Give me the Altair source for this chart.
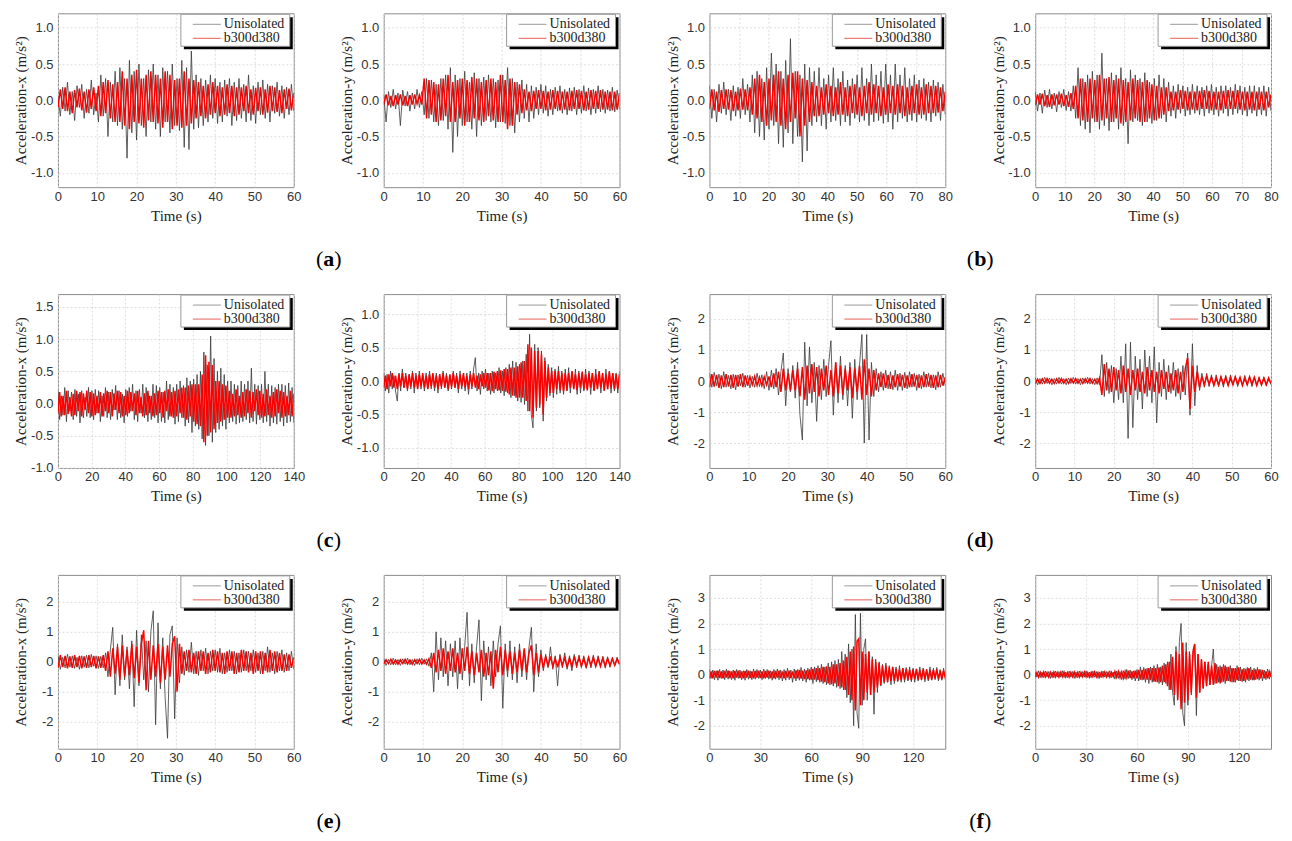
import altair as alt
import pandas as pd

SERIF = "Liberation Serif"
SANS = "Liberation Sans"
W, H = 236, 174

# ---------------- data ----------------
A_X_U = [.05,-.22,.18,-.15,.25,-.2,.12,-.28,.2,-.1,.22,-.25,.15,-.18,.28,-.2,.1,
         -.3,.35,-.22,.3,-.5,.25,-.3,.4,-.35,
         .45,-.4,.3,-.8,.55,-.45,.4,-.55,.5,-.35,.3,-.5,.42,-.3,.5,
         -.4,.35,-.5,.45,-.3,.4,-.45,.5,-.35,.3,-.42,.55,-.65,.45,-.68,.68,-.4,.35,
         -.38,.3,-.35,.28,-.3,.35,-.25,.3,-.32,.25,-.3,.28,-.22,.3,-.35,.25,-.28,
         .3,-.25,.22,-.3,.35,-.28,.2,-.32,.25,-.2,.28,-.25,.22,-.3,.2,-.18,.25,-.22,.2,-.25,.18,-.2,.22,-.15]
A_X_R = [-.1,.15,-.12,.18,-.15,.12,-.18,.14,-.1,.16,-.14,.12,-.17,.15,-.12,.18,-.15,
         .2,-.22,.25,-.18,.28,-.25,.22,-.3,.25,
         -.3,.4,-.35,.3,-.4,.35,-.3,.42,-.32,.3,-.38,.35,-.28,.4,-.3,
         .35,-.32,.3,-.38,.4,-.3,.35,-.4,.28,-.35,.3,-.38,.4,-.35,.3,-.32,.28,-.25,
         .25,-.22,.2,-.25,.22,-.2,.25,-.18,.2,-.22,.18,-.2,.22,-.18,.2,-.22,.18,
         -.2,.18,-.15,.2,-.18,.15,-.2,.17,-.15,.18,-.2,.15,-.17,.2,-.15,.18,-.16,.14,-.18,.15,-.12,.16,-.14,.1]
A_Y_U = [.08,-.3,.12,-.1,.15,-.12,.1,-.35,.14,-.08,.12,-.15,.1,-.12,.15,-.1,.12,
         -.2,.3,-.25,.28,-.3,.22,-.35,.3,-.28,.35,-.4,.45,-.72,
         .35,-.5,.3,-.35,.4,-.3,.25,-.4,.38,-.5,.3,-.35,.32,-.28,.35,-.3,
         .3,-.38,.28,-.3,.35,-.32,.45,-.35,.3,-.45,.25,-.3,.28,
         -.25,.22,-.3,.2,-.25,.18,-.2,.22,-.18,.2,-.22,.15,-.2,.18,-.15,.2,-.18,.15,-.2,.17,
         -.15,.18,-.2,.15,-.18,.2,-.15,.17,-.2,.15,-.18,.2,-.16,.15,-.18,.14,-.15,.18,-.16,.14,-.12]
A_Y_R = [-.06,.08,-.07,.06,-.08,.07,-.06,.08,-.07,.06,-.08,.07,-.06,.08,-.05,.07,-.06,
         .3,-.25,.28,-.2,.25,-.3,.22,-.28,.3,-.22,.35,-.3,.25,
         -.3,.28,-.25,.3,-.35,.28,-.3,.32,-.25,.3,-.28,.25,-.3,.28,-.22,.3,
         -.28,.25,-.3,.35,-.3,.28,-.4,.3,-.35,.25,-.2,.22,-.18,
         .15,-.14,.12,-.15,.13,-.12,.14,-.12,.13,-.14,.12,-.13,.14,-.12,.13,-.14,.12,-.13,.12,-.14,
         .13,-.12,.14,-.12,.13,-.14,.12,-.13,.14,-.12,.13,-.12,.14,-.13,.12,-.13,.12,-.14,.12,-.13,.1]

B_X_U = [.2,-.25,.15,-.3,.22,-.18,.25,-.2,.15,-.28,.2,-.22,.18,-.25,.3,-.2,.22,-.3,
         .35,-.45,.4,-.5,.3,-.55,.45,-.4,.65,-.35,.5,-.6,.4,-.65,.55,-.45,.85,-.6,.4,-.5,.35,-.85,.5,-.7,.45,-.35,.4,
         -.3,.45,-.35,.3,-.4,.35,-.3,.45,-.28,.3,-.35,.4,-.3,.28,-.35,.3,-.25,.35,-.3,.45,-.28,.3,-.35,.5,-.3,
         .35,-.28,.4,-.32,.5,-.3,.35,-.4,.5,-.3,.35,-.25,.45,-.3,.3,-.28,.35,-.3,.28,-.25,.3,-.28,.25,-.3,.28,
         -.22,.25,-.28,.22,-.2]
B_X_R = [-.12,.15,-.14,.12,-.16,.14,-.12,.15,-.13,.14,-.15,.12,-.14,.16,-.13,.15,-.14,.18,
         -.2,.3,-.25,.35,-.3,.25,-.35,.3,-.28,.35,-.3,.4,-.35,.3,-.4,.35,-.3,.38,-.25,.4,-.5,.3,-.35,.28,-.3,.25,-.22,
         .2,-.22,.18,-.2,.22,-.18,.2,-.22,.18,-.2,.25,-.2,.18,-.22,.2,-.18,.22,-.2,.18,-.22,.2,-.18,.25,-.2,.22,
         -.18,.2,-.22,.18,-.2,.22,-.18,.2,-.2,.22,-.18,.2,-.22,.18,-.2,.2,-.18,.22,-.2,.18,-.2,.22,-.18,.2,-.18,
         .2,-.17,.18,-.15,.12]
B_Y_U = [.12,-.15,.1,-.18,.14,-.1,.15,-.12,.1,-.16,.12,-.1,.15,-.14,.12,-.15,.2,
         -.25,.45,-.35,.3,-.4,.35,-.45,.4,-.3,.35,-.4,.65,-.35,.3,-.42,.38,-.3,.35,-.4,.45,-.35,.3,-.6,.42,-.3,
         .35,-.28,.3,-.35,.38,-.3,.25,-.32,.3,-.28,.35,-.25,.3,-.3,
         .25,-.22,.2,-.25,.22,-.18,.2,-.22,.18,-.2,.22,-.18,.2,-.2,.18,-.22,.2,-.18,.22,-.2,.18,-.22,
         .2,-.18,.2,-.22,.18,-.2,.22,-.18,.2,-.2,.18,-.22,.2,-.18,.2,-.22,.18,-.2,.2,-.22,.18,-.15]
B_Y_R = [-.07,.08,-.06,.09,-.08,.07,-.09,.08,-.07,.08,-.06,.09,-.08,.07,-.09,.1,-.12,
         .2,-.25,.3,-.28,.25,-.3,.3,-.25,.28,-.3,.35,-.28,.3,-.25,.32,-.3,.28,-.25,.3,-.32,.28,-.3,.25,-.28,
         .3,-.25,.28,-.3,.25,-.3,.28,-.25,.22,-.28,.2,-.25,.18,-.2,.18,
         -.15,.12,-.14,.12,-.13,.14,-.12,.13,-.14,.12,-.13,.12,-.14,.13,-.12,.14,-.12,.13,-.14,.12,-.13,.12,
         -.14,.13,-.12,.14,-.12,.13,-.12,.14,-.13,.12,-.14,.12,-.13,.12,-.14,.12,-.13,.12,-.14,.12,-.1,.08]

C_X_U = [.2,-.25,.12,-.18,.25,-.28,.2,-.12,.18,-.25, .22,-.2,.15,-.3,.2,-.22,.1,-.2,.25,-.22,
         .2,-.25,.22,-.15,.2,-.28,.12,-.2,.25,-.22, .18,-.25,.22,-.1,.28,-.25,.2,-.22,.15,-.3,
         .22,-.2,.25,-.12,.3,-.25,.2,-.28,.22,-.15, .3,-.22,.25,-.28,.12,-.25,.3,-.22,.28,-.3,
         .25,-.28,.18,-.3,.35,-.25,.3,-.2,.25,-.32, .3,-.28,.35,-.22,.28,
         -.35,.4,-.3,.35,-.45,.38,-.35,.45,-.4,.5,
         -.55,.8,-.65,.6,-.5,1.05,-.6,.7,
         -.45,.5,-.4,.55,-.35,.45,-.4,.35,
         -.3,.35,-.28,.3,-.32,.28,-.3,.35,-.28,.3,-.25,.35,-.3,.55,-.28,.3,-.32,.28,-.25,.3,
         -.3,.5,-.28,.3,-.35,.28,-.3,.25,-.32,.3,-.28,.3,-.35,.28,-.3,.32,-.28,.25,-.3]
C_X_R = [-.15,.18,-.2,.12,-.18,.2,-.16,.1,-.2,.15, -.18,.2,-.12,.18,-.2,.16,-.1,.2,-.15,.18,
         -.2,.16,-.18,.12,-.15,.18,-.2,.16,-.12,.2, -.15,.18,-.2,.16,-.1,.2,-.15,.18,-.2,.12,
         -.18,.2,-.15,.18,-.12,.16,-.18,.2,-.15,.1, -.2,.16,-.18,.2,-.15,.12,-.2,.16,-.18,.2,
         -.15,.18,-.22,.2,-.12,.22,-.2,.18,-.22,.2, -.2,.22,-.15,.25,-.22,
         .25,-.25,.28,-.2,.3,-.28,.3,-.32,.3,-.35,
         .45,-.6,.75,-.5,.65,-.45,.6,-.4,
         .35,-.3,.35,-.28,.3,-.25,.28,-.22,
         .2,-.22,.15,-.2,.22,-.18,.12,-.22,.18,-.2,.22,-.15,.2,-.22,.18,-.12,.22,-.18,.2,-.22,
         .15,-.2,.22,-.18,.12,-.22,.18,-.2,.22,-.15,.2,-.22,.18,-.2,.12,-.18,.2,-.2,.15]
C_Y_U = [.12,-.15,.1,-.18,.15,-.12,.08,-.15,-.3,.12, -.15,.18,-.1,.12,-.15,.1,-.12,.15,-.18,.12,
         -.1,.15,-.12,.08,-.15,.12,-.1,.15,-.12,.1, -.15,.12,-.18,.1,-.12,.15,-.1,.12,-.15,.08,
         -.12,.15,-.1,.12,-.18,.15,-.12,.1,-.15,.12, -.2,.15,-.12,.18,.35,-.15,.12,-.2,.15,-.12,
         .18,-.15,.12,-.2,.15,-.18,.12,-.15,.2,-.18, .15,-.22,.2,-.18,.25,
         -.25,.3,-.22,.28,-.3,.25,-.32,.3,-.35,.4,
         -.45,.7,-.5,-.7,.55,-.45,.5,-.4,.45,-.6,.35,
         -.3,.25,-.22,.2,-.25,.18,-.2,.22,-.18,.15,-.2,.18,-.15,.2,-.18,.15,-.12,.18,-.2,.15,-.18,.12,
         -.15,.18,-.12,.15,-.2,.12,-.15,.18,-.12,.15,-.18,.12,-.15,.18,-.12,.15,-.18,.12,-.15,.12,-.18,.15]
C_Y_R = [-.1,.08,-.12,.1,-.08,.12,-.1,.08,-.12,.1, -.08,.12,-.1,.08,-.12,.1,-.08,.12,-.1,.08,
         -.12,.1,-.08,.12,-.1,.08,-.12,.1,-.08,.12, -.1,.08,-.12,.1,-.08,.12,-.1,.08,-.12,.1,
         -.08,.12,-.1,.08,-.12,.1,-.08,.12,-.1,.08, -.12,.1,-.08,.12,-.1,.08,-.12,.1,-.08,.12,
         -.1,.12,-.14,.12,-.15,.14,-.12,.15,-.14,.16, -.15,.18,-.16,.18,-.2,
         .2,-.22,.2,-.25,.22,-.25,.28,-.25,.3,-.3,
         .55,-.45,.5,-.55,.45,-.4,.45,-.35,.4,-.5,.3,
         -.25,.2,-.18,.15,-.18,.15,-.12,.15,-.14,.12,-.15,.12,-.14,.12,-.1,.14,-.12,.1,-.14,.12,-.1,.14,
         -.12,.1,-.14,.12,-.1,.12,-.14,.1,-.12,.14,-.1,.12,-.14,.1,-.12,.14,-.1,.12,-.12,.1,-.12,.1]

D_X_U = [.25,-.2,.28,-.15,.22,-.25,.3,-.2,.18,-.25,.22,-.28,.2,-.15,.25,-.2,.18,-.22,.15,-.2,.25,-.18,.2,-.25,.3,
         -.3,.35,-.25,.4,-.45,.3,.9,-.8,.4,-.35,.5,-.55,
         .6,-1.1,-1.9,1.25,-.8,1.1,-.7,.6,-1.3,.5,-.6,.7,-.5,.5,1.3,-1.1,.6,-.7,.8,-.6,.5,-.8,.6,-1.2,
         .7,-.6,.5,1.5,-2.0,1.5,-1.9,.6,-.5,
         .4,-.35,.3,-.3,.35,-.25,.3,-.28,.35,-.3,.25,-.3,.28,-.25,.3,-.2,.25,-.3,.22,-.25,.3,-.2,.25,-.22,.2,
         -.28,.3,-.2,.25,-.15]
D_X_R = [-.2,.22,-.18,.2,-.22,.18,-.2,.22,-.18,.2,-.22,.2,-.18,.22,-.2,.18,-.15,.14,-.12,.15,-.14,.12,-.15,.14,-.12,
         .15,-.2,.25,-.2,.3,-.35,.4,-.3,.25,-.3,.35,-.3,
         .4,-.5,.45,-.6,.5,-.4,.55,-.35,.45,-.5,.4,-.3,.5,-.45,.35,-.5,.6,-.4,.5,-.45,.4,-.3,.45,-.55,.4,-.35,
         .5,-.6,.7,-.45,.4,-.5,.35,
         -.3,.25,-.2,.25,-.22,.2,-.25,.18,-.2,.22,-.18,.2,-.22,.18,-.2,.22,-.18,.2,-.22,.18,-.2,.22,-.18,.2,-.22,
         .18,-.2,.2,-.15,.12]
D_Y_U = [.1,-.12,.08,-.1,.12,-.08,.1,-.12,.08,-.1,.12,-.1,.08,-.12,.1,-.08,.12,-.1,.08,-.12,.1,-.08,.12,-.1,.08,-.12,.1,-.12,
         .85,-.5,.6,-.4,.5,-.7,.4,-.6,.8,-.7,1.2,-1.85,1.25,-1.5,.8,-.6,.7,-.9,1.0,-.5,.8,-.7,1.1,-1.35,.6,-.5,
         .7,-.6,.5,-.4,.6,-.5,.4,-.6,.5,-.45,.9,-1.1,1.2,-.8,.5,
         -.3,.25,-.2,.25,-.18,.2,-.15,.2,-.18,.15,-.2,.18,-.15,.2,-.12,.15,-.18,.12,-.15,.18,-.12,.15,-.18,.12,-.15,
         .12,-.14,.12,-.15,.1,-.12]
D_Y_R = [-.08,.06,-.08,.07,-.06,.08,-.07,.06,-.08,.07,-.06,.08,-.07,.06,-.08,.07,-.06,.08,-.07,.06,-.08,.07,-.06,.08,-.07,.06,-.08,.1,
         -.45,.55,-.3,.4,-.35,.45,-.3,.35,-.4,.5,-.35,.4,-.45,.35,-.3,.4,-.35,.3,-.4,.45,-.3,.35,-.35,.3,-.4,.35,
         -.25,.3,-.35,.25,-.3,.35,-.4,.3,-.35,.4,.75,-.9,.5,-.35,.3,
         -.2,.15,-.12,.15,-.1,.12,-.14,.1,-.12,.14,-.1,.12,-.14,.1,-.12,.14,-.1,.12,-.14,.1,-.12,.14,-.1,.12,-.14,
         .1,-.12,.1,-.12,.1,-.08]

E_X_U = [.2,-.25,.15,-.2,.25,-.18,.2,-.22,.15,-.25,.2,-.18,.22,-.2,.25,-.15,.2,-.22,.18,-.2,
         .3,-.5,.4,1.15,-1.1,.6,-.8,.9,-.6,.5,-.9,.7,-1.5,1.05,-.8,.9,-.6,.7,-1.0,1.0,1.7,-2.1,1.3,-.9,.8,-1.2,
         -2.55,.9,1.2,-1.9,.8,-.7,.5,
         -.45,.4,-.35,.65,-.4,.35,-.45,.4,-.3,.45,-.4,.35,-.3,.4,-.35,.45,-.4,.3,-.35,.4,-.3,.35,-.4,.3,-.35,
         .4,-.3,.35,-.3,.4,-.35,.3,-.4,.35,-.3,.5,-.35,.3,-.4,.35,-.3,.4,-.35,.3,-.3,.35,-.25]
E_X_R = [-.2,.22,-.18,.2,-.22,.18,-.2,.22,-.18,.2,-.22,.18,-.2,.22,-.18,.2,-.22,.18,-.2,.22,
         -.3,.35,-.5,.45,-.4,.5,-.6,.55,-.5,.4,-.45,.6,-.55,.5,-.7,.6,1.05,-.95,.7,-.6,.55,-.5,.6,-.7,.5,
         -.6,.55,-.5,.6,.85,-1.0,.6,-.4,
         .35,-.3,.4,-.35,.3,-.4,.35,-.3,.35,-.4,.3,-.35,.4,-.3,.35,-.35,.3,-.4,.35,-.3,.35,-.4,.3,-.35,.4,
         -.3,.35,-.35,.3,-.4,.35,-.3,.35,-.4,.3,-.35,.4,-.3,.35,-.35,.3,-.3,.25,-.3,.25,-.2,.15]
E_Y_U = [.1,-.12,.08,-.1,.12,-.1,.08,-.12,.1,-.08,.12,-.1,.08,-.12,.1,-.1,.12,-.08,.1,-.15,
         .3,-1.0,1.0,-.6,.8,-.5,.7,-.8,.6,-.5,.7,-.9,.8,-.6,.5,1.65,-.8,.6,-.7,.5,1.4,-1.3,.7,-.6,.5,-.8,
         .7,-.5,.6,1.2,-1.55,.6,-.5,.7,-.6,.5,-.7,.6,-.5,.4,-.6,.5,1.15,-1.0,.6,-.5,.4,
         -.3,.25,-.2,.5,-.25,.2,-.8,.25,-.2,.3,-.25,.2,-.3,.25,-.2,.22,-.18,.2,-.22,.18,-.2,.22,-.18,.2,
         -.15,.18,-.2,.15,-.18,.15,-.12,.15,-.1]
E_Y_R = [-.08,.07,-.06,.08,-.07,.06,-.08,.07,-.06,.08,-.07,.06,-.08,.07,-.06,.08,-.07,.06,-.08,.1,
         -.2,.3,-.35,.4,-.3,.45,-.4,.35,-.3,.45,-.35,.3,-.4,.45,-.3,.5,-.4,.35,-.45,.3,-.35,.4,-.5,.3,-.45,
         .35,-.9,.4,-.35,.5,-.45,.4,-.3,.35,-.4,.3,-.35,.4,-.3,.45,-.35,.3,.55,-.45,.3,-.35,.25,
         -.2,.18,-.15,.18,-.15,.12,-.18,.15,-.12,.15,-.18,.12,-.15,.18,-.12,.15,-.15,.12,-.18,.15,-.12,.15,
         -.15,.12,-.15,.12,-.15,.12,-.12,.1,-.12,.1,-.08]

F_X_U = [.2,-.15,.18,-.2,.15,-.22,.2,-.15,.18,-.2, .22,-.18,.15,-.2,.18,-.22,.2,-.15,.18,-.2,
         .15,-.22,.2,-.18,.15,-.2,.22,-.18,.2,-.15, .18,-.2,.22,-.15,.2,-.18,.15,-.22,.2,-.18,
         .22,-.2,.18,-.25,.2,-.22,.25,-.2,.18,-.3, .22,-.25,.2,-.22,.28,-.25,.22,-.3,.25,-.22,
         .3,-.35,.3,-.28,.35,-.3,.4,-.35,.3,-.4,.45,-.4,.5,-.45,.55,-.5,.6,-.55,.9,-.6,
         .8,-.9,1.2,-1.1,1.0,-2.0,2.35,-1.5,-2.1,2.4,-1.2,1.0,1.4,-1.0,.9,-.8,.7,-1.55,.6,-.7,
         .5,-.45,.4,-.35,.45,-.3,.35,-.4,.3,-.35,.3,-.28,.35,-.3,.25,-.3,.28,-.25,.3,-.28,
         .25,-.3,.22,-.25,.3,-.22,.25,-.28,.2,-.25,.3,-.22,.25,-.2,.28,-.25,.2,-.22,.25,-.2]
F_X_R = [-.15,.12,-.15,.14,-.12,.15,-.14,.12,-.15,.14, -.12,.15,-.14,.12,-.15,.14,-.12,.15,-.14,.12,
         -.15,.14,-.12,.15,-.14,.12,-.15,.14,-.12,.15, -.14,.12,-.15,.14,-.12,.15,-.14,.12,-.15,.14,
         -.12,.15,-.14,.12,-.15,.14,-.12,.15,-.14,.12, -.15,.16,-.15,.18,-.16,.15,-.18,.16,-.18,.2,
         -.2,.22,-.2,.25,-.22,.25,-.28,.3,-.3,.32,-.35,.3,-.38,.4,-.35,.4,-.45,.45,-.5,.55,
         -.6,.7,-.8,.9,-1.0,1.1,-1.4,1.3,1.4,-1.2,.9,-1.0,.8,-.7,.9,-.8,.6,-.7,.5,-.5,
         .45,-.4,.35,-.3,.35,-.3,.28,-.25,.3,-.25,.22,-.25,.2,-.22,.25,-.2,.22,-.2,.18,-.22,
         .2,-.18,.22,-.2,.18,-.2,.22,-.18,.2,-.2,.18,-.2,.18,-.15,.2,-.18,.15,-.18,.15,-.12]
F_Y_U = [.12,-.1,.15,-.12,.1,-.12,.14,-.1,.12,-.15, .1,-.12,.14,-.1,.12,-.1,.15,-.12,.1,-.12,
         .14,-.1,.12,-.15,.1,-.12,.14,-.1,.12,-.1, .15,-.12,.1,-.12,.14,-.1,.12,-.15,.1,-.12,
         .14,-.1,.12,-.1,.15,-.12,.1,-.18,.14,-.15, .12,-.2,.15,-.18,.2,-.15,.18,-.2,.15,-.25,
         .2,-.25,.3,-.22,.28,-.3,.25,-.35,.3,-.3,.35,-.28,.4,-.35,.3,-.4,.45,-.35,.5,-.6,
         .8,-.7,-1.2,1.1,-.9,1.3,2.0,-1.5,-2.0,1.25,-1.2,.9,-.8,.7,1.2,-1.6,.8,-.7,.6,-.5,
         .5,-.45,.4,-.4,.35,1.0,-.35,.4,-.3,.35,-.3,.4,-.35,.3,-.25,.35,-.3,.25,-.3,.35,
         -.25,.3,-.28,.25,-.3,.28,-.25,.3,-.22,.25,-.2,.28,-.22,.2,-.25,.18,-.2,.22,-.18,.15]
F_Y_R = [-.1,.08,-.1,.09,-.08,.1,-.09,.08,-.1,.09, -.08,.1,-.09,.08,-.1,.09,-.08,.1,-.09,.08,
         -.1,.09,-.08,.1,-.09,.08,-.1,.09,-.08,.1, -.09,.08,-.1,.09,-.08,.1,-.09,.08,-.1,.09,
         -.08,.1,-.09,.08,-.1,.09,-.08,.12,-.1,.12, -.12,.1,-.14,.12,-.12,.15,-.14,.12,-.15,.15,
         -.15,.18,-.2,.18,-.2,.22,-.2,.25,-.22,.25,-.28,.25,-.3,.28,-.3,.35,-.3,.4,-.45,.5,
         -.6,.7,-.8,.9,-1.0,.8,-1.35,1.25,-1.1,.9,-1.0,.8,-.7,.9,1.2,-.9,.8,-.7,.6,-.55,
         .5,-.45,.5,-.4,.35,-.4,.45,-.35,.3,-.35,.3,-.28,.35,-.25,.3,-.28,.25,-.3,.25,-.22,
         .28,-.25,.2,-.25,.22,-.2,.25,-.2,.18,-.22,.2,-.18,.2,-.15,.18,-.15,.12,-.15,.12,-.1]

SERIES_NAMES = ["Unisolated", "b300d380"]

# ---------------- helpers ----------------
def frame(dur, vals):
    n = len(vals)
    return pd.DataFrame({"t": [i * dur / (n - 1) for i in range(n)], "a": vals})


def panel(dur, u_vals, r_vals, ydom, yticks, xticks, comp, yfmt, label=None):
    x = alt.X("t:Q", scale=alt.Scale(domain=[0, dur], nice=False, zero=False),
              axis=alt.Axis(values=xticks, title="Time (s)", labelFlush=False,
                            labelPadding=3, titlePadding=5, format="d"))
    y = alt.Y("a:Q", scale=alt.Scale(domain=ydom, nice=False, zero=False),
              axis=alt.Axis(values=yticks, format=yfmt, title=f"Acceleration-{comp} (m/s²)",
                            labelPadding=5, titlePadding=3, minExtent=26, maxExtent=26))
    u = alt.Chart(frame(dur, u_vals)).mark_line(color="#3a3a3a", strokeWidth=0.8, clip=True).encode(x=x, y=y)
    r = alt.Chart(frame(dur, r_vals)).mark_line(color="#ff0000", strokeWidth=1.5, clip=True).encode(x=x, y=y)
    one = alt.Chart(pd.DataFrame({"k": [0]}))
    shadow = one.mark_rect(color="black").encode(
        x=alt.value(W - 110), x2=alt.value(W - 1), y=alt.value(4), y2=alt.value(36))
    box = one.mark_rect(fill="white", stroke="#9a9a9a", strokeWidth=1).encode(
        x=alt.value(W - 113), x2=alt.value(W - 4), y=alt.value(1), y2=alt.value(33))
    l1 = one.mark_rule(color="#9a9a9a", strokeWidth=1).encode(
        x=alt.value(W - 101), x2=alt.value(W - 73), y=alt.value(11))
    l2 = one.mark_rule(color="#e8605a", strokeWidth=1).encode(
        x=alt.value(W - 101), x2=alt.value(W - 73), y=alt.value(25))
    t1 = one.mark_text(font=SERIF, fontSize=14, color="#222", align="left", baseline="middle").encode(
        x=alt.value(W - 70), y=alt.value(11), text=alt.value(SERIES_NAMES[0]))
    t2 = one.mark_text(font=SERIF, fontSize=14, color="#222", align="left", baseline="middle").encode(
        x=alt.value(W - 70), y=alt.value(25), text=alt.value(SERIES_NAMES[1]))
    layers = [u, r, shadow, box, l1, l2, t1, t2]
    if label is not None:
        cx, cy = -55, H + 72
        wmap = {"a": 9.2, "b": 9.8, "c": 8.6, "d": 9.8, "e": 8.6, "f": 7.3}
        off = wmap[label]
        lp = one.mark_text(font=SERIF, fontSize=22, color="black", align="center", baseline="middle").encode(
            x=alt.value(cx - off), y=alt.value(cy), text=alt.value("("))
        lm = one.mark_text(font=SERIF, fontSize=22, fontWeight="bold", color="black", align="center",
                           baseline="middle").encode(x=alt.value(cx), y=alt.value(cy), text=alt.value(label))
        rp = one.mark_text(font=SERIF, fontSize=22, color="black", align="center", baseline="middle").encode(
            x=alt.value(cx + off), y=alt.value(cy), text=alt.value(")"))
        layers += [lp, lm, rp]
    return alt.layer(*layers).properties(width=W, height=H)


Y12 = [-1.0, -0.5, 0.0, 0.5, 1.0]
Y2 = [-2, -1, 0, 1, 2]
Y3 = [-2, -1, 0, 1, 2, 3]
X60 = [0, 10, 20, 30, 40, 50, 60]
X80 = [0, 10, 20, 30, 40, 50, 60, 70, 80]
X140 = [0, 20, 40, 60, 80, 100, 120, 140]
X139 = [0, 30, 60, 90, 120]

panels = [
    panel(60, A_X_U, A_X_R, [-1.2, 1.2], Y12, X60, "x", ".1f"),
    panel(60, A_Y_U, A_Y_R, [-1.2, 1.2], Y12, X60, "y", ".1f", label="a"),
    panel(80, B_X_U, B_X_R, [-1.2, 1.2], Y12, X80, "x", ".1f"),
    panel(80, B_Y_U, B_Y_R, [-1.2, 1.2], Y12, X80, "y", ".1f", label="b"),
    panel(140, C_X_U, C_X_R, [-1.0, 1.7], [-1.0, -0.5, 0.0, 0.5, 1.0, 1.5], X140, "x", ".1f"),
    panel(140, C_Y_U, C_Y_R, [-1.3, 1.3], Y12, X140, "y", ".1f", label="c"),
    panel(60, D_X_U, D_X_R, [-2.8, 2.8], Y2, X60, "x", "d"),
    panel(60, D_Y_U, D_Y_R, [-2.8, 2.8], Y2, X60, "y", "d", label="d"),
    panel(60, E_X_U, E_X_R, [-2.9, 2.9], Y2, X60, "x", "d"),
    panel(60, E_Y_U, E_Y_R, [-2.9, 2.9], Y2, X60, "y", "d", label="e"),
    panel(139, F_X_U, F_X_R, [-2.9, 3.9], Y3, X139, "x", "d"),
    panel(139, F_Y_U, F_Y_R, [-2.9, 3.9], Y3, X139, "y", "d", label="f"),
]

chart = alt.concat(*panels, columns=4, spacing={"row": 107, "column": 90}, bounds="flush").properties(
    padding={"left": 5, "top": 4, "right": 5, "bottom": 0}
).configure(
    locale=alt.Locale(number=alt.NumberLocale(decimal=".", thousands=",", grouping=[3],
                                               currency=["", ""], minus="-"))
).configure_view(
    stroke="#8a8a8a", strokeWidth=1
).configure_axis(
    labelFont=SANS, labelFontSize=13, labelColor="#333333",
    titleFont=SERIF, titleFontSize=15, titleFontWeight="normal", titleColor="#222222",
    grid=True, gridColor="#d4d4d4", gridDash=[2, 2], gridWidth=0.8,
    domain=False, ticks=False
)

chart.save("out.html", embed_options={"renderer": "svg", "actions": False})
